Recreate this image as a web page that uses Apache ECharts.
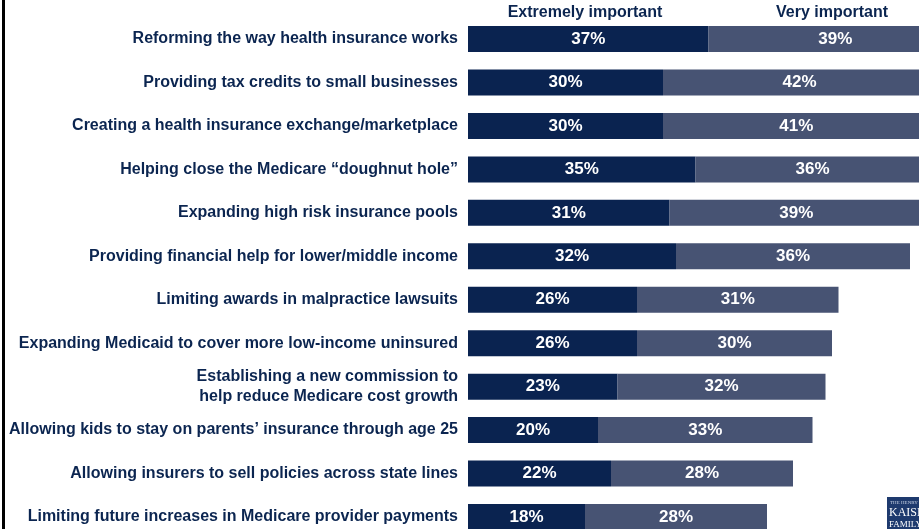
<!DOCTYPE html>
<html><head><meta charset="utf-8">
<script src="https://cdn.jsdelivr.net/npm/echarts@6/dist/echarts.min.js"></script>
<style>html,body{margin:0;padding:0;background:#fff}#c{width:919px;height:529px}</style>
</head><body><div id="c"></div>
<script>
const categories = [
  "Reforming the way health insurance works",
  "Providing tax credits to small businesses",
  "Creating a health insurance exchange/marketplace",
  "Helping close the Medicare \u201cdoughnut hole\u201d",
  "Expanding high risk insurance pools",
  "Providing financial help for lower/middle income",
  "Limiting awards in malpractice lawsuits",
  "Expanding Medicaid to cover more low-income uninsured",
  "Establishing a new commission to\nhelp reduce Medicare cost growth",
  "Allowing kids to stay on parents\u2019 insurance through age 25",
  "Allowing insurers to sell policies across state lines",
  "Limiting future increases in Medicare provider payments"
];
const extremelyImportant = [37, 30, 30, 35, 31, 32, 26, 26, 23, 20, 22, 18];
const veryImportant = [39, 42, 41, 36, 39, 36, 31, 30, 32, 33, 28, 28];
const seriesNames = ["Extremely important", "Very important"];

const FONT = "'Liberation Sans', Arial, sans-serif";
const chart = echarts.init(document.getElementById('c'), null, {renderer: 'canvas'});
const lbl = {show: true, position: 'inside', formatter: '{c}%', color: '#fff',
  fontFamily: FONT, fontWeight: 'bold', fontSize: 17};
chart.setOption({
  animation: false,
  title: [
    {text: seriesNames[0], left: 585, top: 5, padding: 0, textAlign: 'center',
     textStyle: {fontFamily: FONT, fontWeight: 'bold', fontSize: 16, color: '#0b2550'}},
    {text: seriesNames[1], left: 832, top: 5, padding: 0, textAlign: 'center',
     textStyle: {fontFamily: FONT, fontWeight: 'bold', fontSize: 16, color: '#0b2550'}}
  ],
  grid: {left: 468, top: 17.3, width: 650, height: 521.4, containLabel: false, outerBoundsMode: 'none'},
  xAxis: {type: 'value', min: 0, max: 100, show: false},
  yAxis: {type: 'category', data: categories, inverse: true,
    axisLine: {show: false}, axisTick: {show: false},
    axisLabel: {margin: 10, fontFamily: FONT, fontWeight: 'bold', fontSize: 16,
      color: '#0b2550', align: 'right', lineHeight: 20}},
  series: [
    {name: seriesNames[0], type: 'bar', stack: 's', data: extremelyImportant,
     barWidth: 26, itemStyle: {color: '#0a2350'}, label: lbl},
    {name: seriesNames[1], type: 'bar', stack: 's', data: veryImportant,
     barWidth: 26, itemStyle: {color: '#475373'}, label: lbl}
  ],
  graphic: [
    {type: 'rect', left: 2, top: 0, shape: {width: 3, height: 529}, style: {fill: '#000'}},
    {type: 'group', left: 887, top: 497, children: [
      {type: 'rect', shape: {x: 0, y: 0, width: 40, height: 40}, style: {fill: '#1e3a6e'}},
      {type: 'text', x: 3, y: 3, style: {text: 'THE HENRY J.', fill: '#c9d3e6', fontSize: 5, fontFamily: 'Liberation Serif'}},
      {type: 'text', x: 2, y: 10, style: {text: 'KAISER', fill: '#fff', fontSize: 12, fontFamily: 'Liberation Serif'}},
      {type: 'text', x: 2, y: 23, style: {text: 'FAMILY', fill: '#fff', fontSize: 9, fontFamily: 'Liberation Serif'}}
    ]}
  ]
});
</script></body></html>
